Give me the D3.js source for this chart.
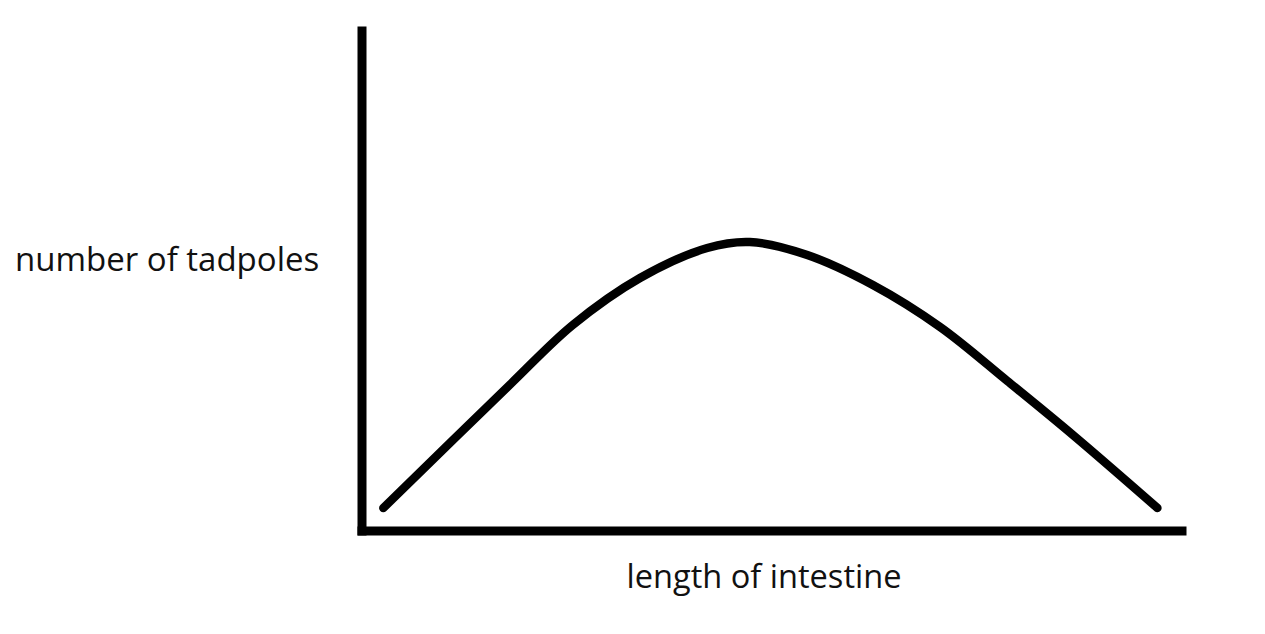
<!DOCTYPE html>
<html>
<head>
<meta charset="utf-8">
<script src="https://cdn.jsdelivr.net/npm/d3@7"></script>
<style>
  body { margin: 0; background: #fff; }
  text { font-family: "Open Sans", "Noto Sans", sans-serif; fill: #111; }
</style>
</head>
<body>
<svg id="chart"></svg>
<script>
// curve (arbitrary units, 0-100 on both axes)
const lengthValues = [2.6, 18.0, 25.7, 33.9, 42.1, 47.3, 54.3, 62.3, 70.5, 78.7, 86.7, 97.0];
const tadpoleCounts = [4.6, 29.2, 41.2, 50.6, 56.6, 57.8, 55.2, 49.2, 40.8, 30.0, 19.2, 4.6];
const xLabel = 'length of intestine';
const yLabel = 'number of tadpoles';

const width = 1265, height = 634;

const svg = d3.select('#chart')
  .attr('width', width)
  .attr('height', height);

const x = d3.scaleLinear().domain([0, 100]).range([362, 1182]);
const y = d3.scaleLinear().domain([0, 100]).range([531, 31]);

// axes are just plain thick lines, no ticks
svg.append('line')
  .attr('x1', x(0)).attr('y1', y(0))
  .attr('x2', x(0)).attr('y2', y(100))
  .attr('stroke', '#000')
  .attr('stroke-width', 9)
  .attr('stroke-linecap', 'square');

svg.append('line')
  .attr('x1', x(0)).attr('y1', y(0))
  .attr('x2', x(100)).attr('y2', y(0))
  .attr('stroke', '#000')
  .attr('stroke-width', 9)
  .attr('stroke-linecap', 'square');

const data = lengthValues.map((v, i) => ({ x: v, y: tadpoleCounts[i] }));

const line = d3.line()
  .x(d => x(d.x))
  .y(d => y(d.y))
  .curve(d3.curveCatmullRom.alpha(0.5));

svg.append('path')
  .datum(data)
  .attr('d', line)
  .attr('fill', 'none')
  .attr('stroke', '#000')
  .attr('stroke-width', 8.5)
  .attr('stroke-linecap', 'round')
  .attr('stroke-linejoin', 'round');

// labels
svg.append('text')
  .attr('x', 15)
  .attr('y', 271)
  .attr('font-size', 33)
  .text(yLabel);

svg.append('text')
  .attr('x', 764)
  .attr('y', 588)
  .attr('text-anchor', 'middle')
  .attr('font-size', 32.6)
  .text(xLabel);
</script>
</body>
</html>
